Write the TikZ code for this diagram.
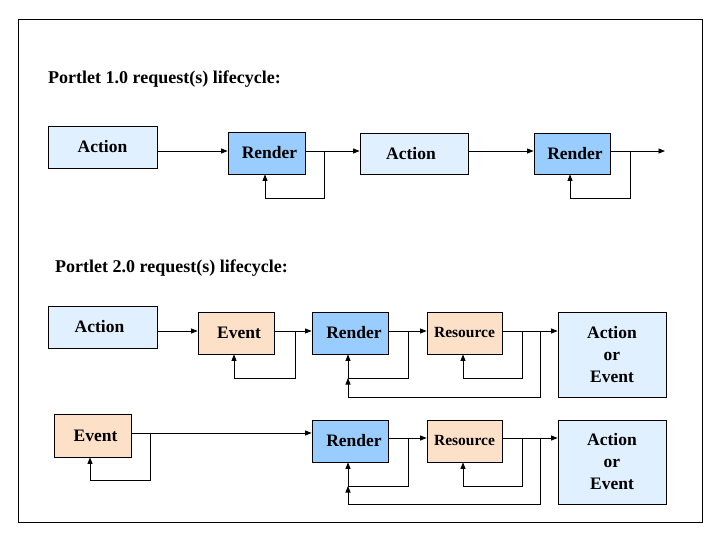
\documentclass[tikz,border=0pt]{standalone}
\usepackage{fontspec}
\setmainfont{Liberation Serif}
\usetikzlibrary{arrows.meta}
\definecolor{lightblue}{HTML}{E0F0FF}
\definecolor{renderblue}{HTML}{99CCFF}
\definecolor{peach}{HTML}{FCE0C8}
\begin{document}
\begin{tikzpicture}[x=1pt,y=-1pt,
  box/.style={draw, line width=0.8pt, inner sep=0pt, font=\fontsize{17.5}{22}\selectfont\bfseries, align=center},
  actbox/.style={box, fill=lightblue},
  rendbox/.style={box, fill=renderblue},
  evbox/.style={box, fill=peach},
  resbox/.style={box, fill=peach, font=\fontsize{15.5}{20}\selectfont\bfseries},
  arr/.style={line width=0.8pt, -{Triangle[length=6.5pt,width=5pt]}},
  ttl/.style={anchor=west, inner sep=0pt, font=\fontsize{18}{20}\selectfont\bfseries}]
\useasboundingbox (0,0) rectangle (720,540);
\draw[line width=0.9pt] (18,19) rectangle (702,522);

% titles
\node[ttl] (t1) at (48,79) {Portlet 1.0 request(s) lifecycle:};
\node[ttl] (t2) at (55,268) {Portlet 2.0 request(s) lifecycle:};

% row 1
\node[actbox, minimum width=109pt, minimum height=42pt] (a1) at (102.5,147) {Action};
\node[rendbox, minimum width=77pt, minimum height=42pt] (r1) at (266.5,153) {\hspace*{6pt}Render};
\node[actbox, minimum width=108pt, minimum height=41pt] (a2) at (414,153.5) {Action\hspace*{6pt}};
\node[rendbox, minimum width=76pt, minimum height=41pt] (r2) at (572,153.5) {\hspace*{6pt}Render};
\coordinate (y1) at (0,151);
\coordinate (end1) at (665,151);
\draw[arr] (a1.east |- y1) -- (r1.west |- y1);
\draw[arr] (r1.east |- y1) -- (a2.west |- y1);
\draw[arr] (a2.east |- y1) -- (r2.west |- y1);
\draw[arr] (r2.east |- y1) -- (end1);
\coordinate (b1) at (324,151);
\coordinate (b2) at (630,151);
\draw[arr] (b1) -- (324,198) -- (265,198) -- (r1.south -| 265,0);
\draw[arr] (b2) -- (630,198) -- (570,198) -- (r2.south -| 570,0);

% row 2
\node[actbox, minimum width=109pt, minimum height=42pt] (a3) at (102.5,327) {Action\hspace*{6pt}};
\node[evbox, minimum width=76pt, minimum height=42pt] (e1) at (236,333) {\hspace*{6pt}Event};
\node[rendbox, minimum width=76pt, minimum height=42pt] (r3) at (350,333) {\hspace*{8pt}Render};
\node[resbox, minimum width=75pt, minimum height=42pt] (s1) at (464.5,333) {Resource};
\node[actbox, minimum width=108pt, minimum height=85pt] (ae1) at (612,354.5) {Action\\or\\Event};
\coordinate (y2) at (0,331);
\draw[arr] (a3.east |- y2) -- (e1.west |- y2);
\draw[arr] (e1.east |- y2) -- (r3.west |- y2);
\draw[arr] (r3.east |- y2) -- (s1.west |- y2);
\draw[arr] (s1.east |- y2) -- (ae1.west |- y2);
\coordinate (c1) at (295,331);
\coordinate (c2) at (408,331);
\coordinate (c3) at (522,331);
\coordinate (c4) at (540,331);
\coordinate (j1) at (348,378);
\draw[arr] (c1) -- (295,378) -- (234,378) -- (e1.south -| 234,0);
\draw[arr] (c2) -- (408,378) -- (j1) -- (r3.south -| j1);
\draw[arr] (c3) -- (522,378) -- (463,378) -- (s1.south -| 463,0);
\draw[arr] (c4) -- (540,397) -- (348,397) -- (j1);

% row 3
\node[evbox, minimum width=77pt, minimum height=43pt] (e2) at (92.5,435.5) {\hspace*{6pt}Event};
\node[rendbox, minimum width=76pt, minimum height=42pt] (r4) at (350,441) {\hspace*{8pt}Render};
\node[resbox, minimum width=75pt, minimum height=42pt] (s2) at (464.5,441) {Resource};
\node[actbox, minimum width=108pt, minimum height=84pt] (ae2) at (612,462) {Action\\or\\Event};
\coordinate (y3) at (0,433);
\coordinate (y4) at (0,438);
\draw[arr] (e2.east |- y3) -- (r4.west |- y3);
\draw[arr] (r4.east |- y4) -- (s2.west |- y4);
\draw[arr] (s2.east |- y4) -- (ae2.west |- y4);
\coordinate (d0) at (150,433);
\coordinate (d1) at (408,438);
\coordinate (d2) at (522,438);
\coordinate (d3) at (540,438);
\coordinate (j2) at (348,486);
\draw[arr] (d0) -- (150,480) -- (90,480) -- (e2.south -| 90,0);
\draw[arr] (d1) -- (408,486) -- (j2) -- (r4.south -| j2);
\draw[arr] (d2) -- (522,486) -- (463,486) -- (s2.south -| 463,0);
\draw[arr] (d3) -- (540,504) -- (348,504) -- (j2);
\end{tikzpicture}
\end{document}
